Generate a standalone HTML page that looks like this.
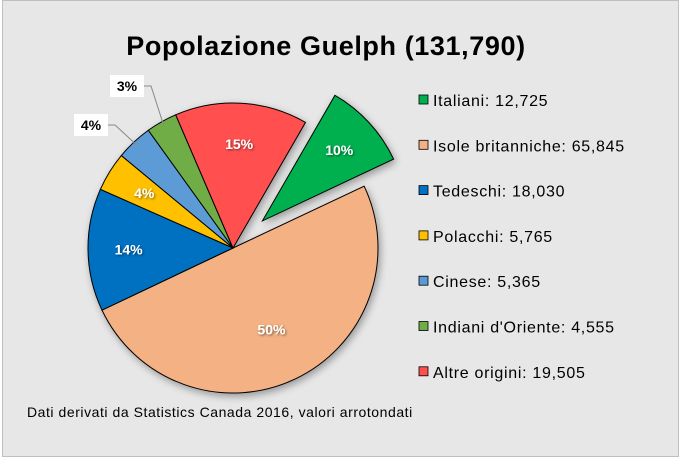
<!DOCTYPE html>
<html><head><meta charset="utf-8"><style>
body{margin:0;background:#fff}
svg{display:block;font-family:"Liberation Sans",sans-serif}
</style></head><body>
<svg id="c" width="680" height="459" viewBox="0 0 680 459">
<defs><filter id="sh" x="-20%" y="-20%" width="140%" height="140%"><feGaussianBlur in="SourceAlpha" stdDeviation="4"/><feOffset dx="2" dy="3"/><feComponentTransfer><feFuncA type="linear" slope="0.35"/></feComponentTransfer><feMerge><feMergeNode/><feMergeNode in="SourceGraphic"/></feMerge></filter>
<filter id="ts"><feDropShadow dx="1" dy="1" stdDeviation="1" flood-opacity="0.5"/></filter></defs>
<rect x="2.5" y="0.5" width="676" height="456" fill="#e7e7e7" stroke="#bfbfbf"/>
<text x="326" y="55" text-anchor="middle" font-size="27" font-weight="bold" letter-spacing="0.6" fill="#000">Popolazione Guelph (131,790)</text>
<g id="slices" filter="url(#sh)"></g>
<g id="labels"></g>
<g id="legend"></g>
<text x="27" y="417" font-size="14" letter-spacing="0.55" fill="#000">Dati derivati da Statistics Canada 2016, valori arrotondati</text>
</svg>
<script>
const categories=["Italiani","Isole britanniche","Tedeschi","Polacchi","Cinese","Indiani d'Oriente","Altre origini"];
const values=[12725,65845,18030,5765,5365,4555,19505];
const valueLabels=["12,725","65,845","18,030","5,765","5,365","4,555","19,505"];
const colors=["#00b050","#f4b183","#0070c0","#ffc000","#5b9bd5","#70ad47","#ff5050"];
const NS="http://www.w3.org/2000/svg";
const cx=233,cy=248,R=145,start=30,explode=[40,0,0,0,0,0,0];
const total=values.reduce((a,b)=>a+b,0);
function pt(a,r,ox,oy){const t=a*Math.PI/180;return [ox+r*Math.sin(t),oy-r*Math.cos(t)];}
const gS=document.getElementById('slices'),gL=document.getElementById('labels'),gG=document.getElementById('legend');
let a=start;
values.forEach((v,i)=>{
  const span=v/total*360,mid=a+span/2;
  const [ox,oy]=pt(mid,explode[i],cx,cy);
  const p1=pt(a,R,ox,oy),p2=pt(a+span,R,ox,oy);
  const path=document.createElementNS(NS,'path');
  path.setAttribute('d',`M${ox},${oy}L${p1[0]},${p1[1]}A${R},${R} 0 ${span>180?1:0} 1 ${p2[0]},${p2[1]}Z`);
  path.setAttribute('fill',colors[i]);path.setAttribute('stroke','#000');path.setAttribute('stroke-width','1');
  
  
  gS.appendChild(path);
  const pct=Math.round(v/total*100)+'%';
  if(v/total>0.042){
    const [lx,ly]=pt(mid,R*(v/total>0.3?0.62:0.72),ox,oy);
    const t=document.createElementNS(NS,'text');
    t.setAttribute('x',lx);t.setAttribute('y',ly+5);t.setAttribute('text-anchor','middle');
    t.setAttribute('font-size','14');t.setAttribute('font-weight','bold');t.setAttribute('fill','#fff');t.setAttribute('filter','url(#ts)');
    t.textContent=pct;
    
    
    gL.appendChild(t);
  } else {
    const [ex,ey]=pt(mid,R*0.97,ox,oy);
    const bx=i===4?74:110,by=i===4?114:75;
    const ln=document.createElementNS(NS,'polyline');
    ln.setAttribute('points',`${bx+34},${by+11} ${bx+41},${by+11} ${ex},${ey}`);
    ln.setAttribute('fill','none');ln.setAttribute('stroke','#888');
    
    
    gL.appendChild(ln);
    const r=document.createElementNS(NS,'rect');
    r.setAttribute('x',bx);r.setAttribute('y',by);r.setAttribute('width',34);r.setAttribute('height',22);r.setAttribute('fill','#fff');
    
    
    gL.appendChild(r);
    const t=document.createElementNS(NS,'text');
    t.setAttribute('x',bx+17);t.setAttribute('y',by+16);t.setAttribute('text-anchor','middle');
    t.setAttribute('font-size','14');t.setAttribute('font-weight','bold');t.textContent=pct;
    
    
    gL.appendChild(t);
  }
  const y=100+i*45.3;
  const sq=document.createElementNS(NS,'rect');
  sq.setAttribute('x',419);sq.setAttribute('y',y-5);sq.setAttribute('width',9);sq.setAttribute('height',9);
  sq.setAttribute('fill',colors[i]);sq.setAttribute('stroke','#000');sq.setAttribute('stroke-width','0.8');
  
  
  gG.appendChild(sq);
  const lt=document.createElementNS(NS,'text');
  lt.setAttribute('x',433);lt.setAttribute('y',y+6);lt.setAttribute('font-size','16');lt.setAttribute('letter-spacing','0.7');lt.setAttribute('fill','#000');
  lt.textContent=categories[i]+': '+valueLabels[i];
  
  
  gG.appendChild(lt);
  a+=span;
});
</script>
</body></html>
